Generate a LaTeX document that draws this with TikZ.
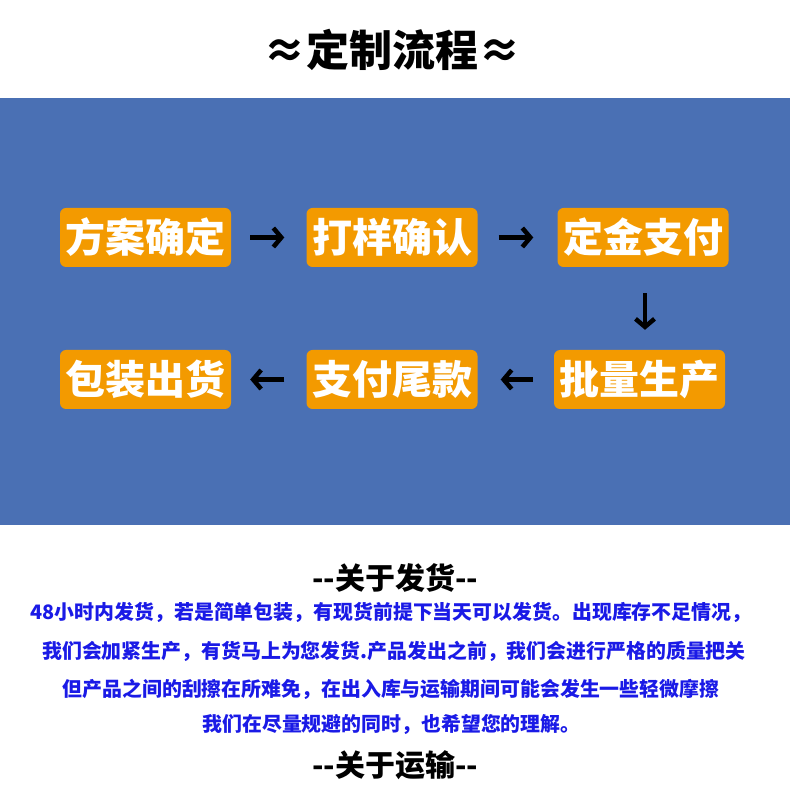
\documentclass[tikz,border=0pt]{standalone}
\usepackage{fontspec}
\newfontfamily\cjk{Noto Sans CJK SC}
\usetikzlibrary{arrows.meta,calc,positioning}
\definecolor{bgblue}{RGB}{74,112,180}
\definecolor{steporange}{RGB}{243,154,0}
\definecolor{noteblue}{RGB}{26,26,230}
\tikzset{
    stepbox/.style={rounded corners=6pt,fill=steporange,minimum width=171pt,minimum height=59pt,inner sep=0pt,text=white,font=\cjk\bfseries\fontsize{40}{44}\selectfont},
    flow/.style={line width=4.5pt,draw=black,-{Straight Barb[length=8pt,width=19pt,line width=4.5pt]}},
    headline/.style={font=\cjk\bfseries\fontsize{30}{34}\selectfont,inner sep=0pt},
    noteline/.style={text=noteblue,font=\cjk\bfseries\fontsize{19.9}{22}\selectfont,inner sep=0pt},
    every node/.style={font=\cjk}
}
\begin{document}
\begin{tikzpicture}[x=1pt,y=1pt]
  \useasboundingbox (0,0) rectangle (790,785);
  \fill[bgblue] (0,260) rectangle (790,687);

  \node[font=\cjk\bfseries\fontsize{43}{46}\selectfont] (title) at (392,735) {≈定制流程≈};

  \node[stepbox] (s1) at (145.5,547.5) {方案确定};
  \node[stepbox] (s2) at (392,547.5) {打样确认};
  \node[stepbox] (s3) at (643,547.5) {定金支付};
  \node[stepbox] (s6) at (639.5,405.5) {批量生产};
  \node[stepbox] (s5) at (392,405.5) {支付尾款};
  \node[stepbox] (s4) at (145.5,405.5) {包装出货};

  \draw[flow,shorten <=19pt,shorten >=22pt] (s1.east) -- (s2.west);
  \draw[flow,shorten <=21pt,shorten >=24pt] (s2.east) -- (s3.west);
  \draw[flow,shorten <=26pt,shorten >=20pt] ([xshift=2pt]s3.south) -- ([xshift=2pt]s3.south |- s6.north);
  \draw[flow,shorten <=21pt,shorten >=23pt] (s6.west) -- (s5.east);
  \draw[flow,shorten <=22pt,shorten >=19pt] (s5.west) -- (s4.east);

  \node[headline] (ship) at (395,207) {--关于发货--};
  \node[noteline] (n1) at (391,173) {48小时内发货，若是简单包装，有现货前提下当天可以发货。出现库存不足情况，};
  \node[noteline] (n2) at (394,134) {我们会加紧生产，有货马上为您发货.产品发出之前，我们会进行严格的质量把关};
  \node[noteline] (n3) at (391,96) {但产品之间的刮擦在所难免，在出入库与运输期间可能会发生一些轻微摩擦};
  \node[noteline] (n4) at (391.5,61) {我们在尽量规避的同时，也希望您的理解。};
  \node[headline] (transport) at (395,20) {--关于运输--};
\end{tikzpicture}
\end{document}
